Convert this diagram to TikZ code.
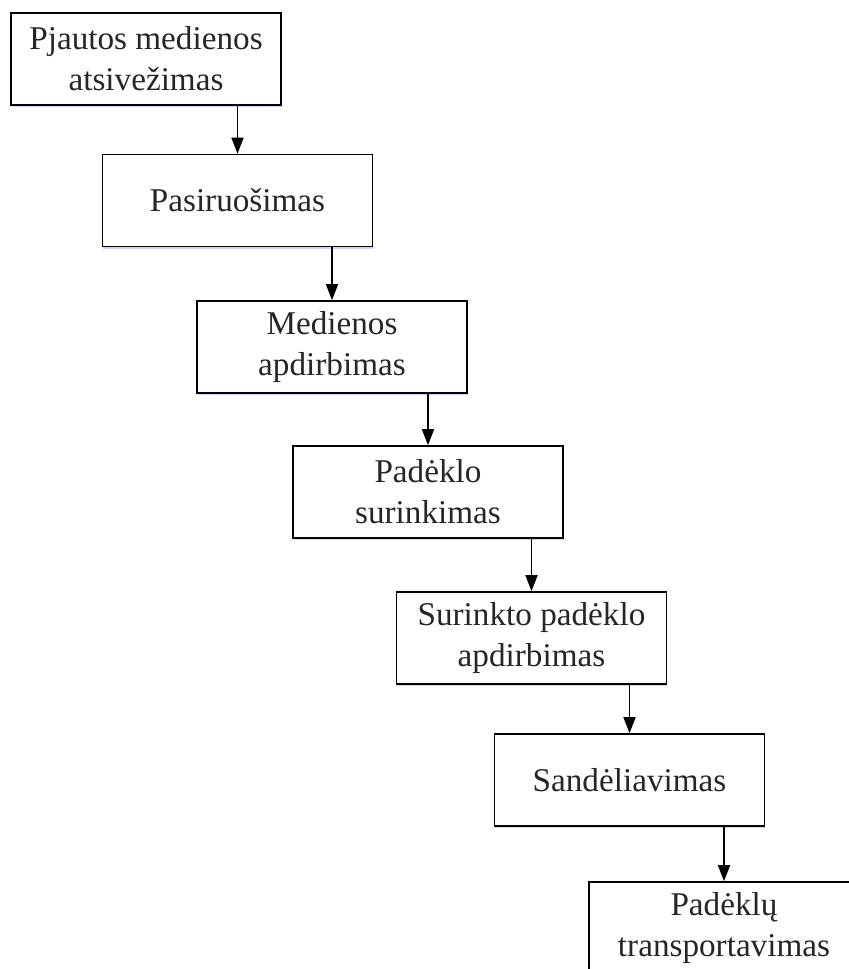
\documentclass[tikz,border=0pt]{standalone}
\usepackage{fontspec}
\setmainfont{Liberation Serif}
\usetikzlibrary{arrows.meta,shadows}
\begin{document}
\begin{tikzpicture}[x=0.5pt,y=-0.5pt,
  stepbox/.style={draw,fill=white,line width=0.8pt,minimum width=135pt,minimum height=46pt,
    inner sep=0pt,align=center,text=black!85,font=\fontsize{16.6}{20.5}\selectfont,
    drop shadow={shadow xshift=0.4pt,shadow yshift=-1pt,fill=blue!18!white,opacity=1}},
  flow/.style={-{Triangle[width=6pt,length=8pt]},line width=0.8pt}]
  \useasboundingbox (0,0) rectangle (849,969);
  \node[stepbox] (vez) at (146,59) {Pjautos medienos\\atsivežimas};
  \node[stepbox] (pas) at (237.5,200.5) {Pasiruošimas};
  \node[stepbox] (med) at (332,347) {Medienos\\apdirbimas};
  \node[stepbox] (sur) at (428,492) {Padėklo\\surinkimas};
  \node[stepbox] (pad) at (531.5,638) {Surinkto padėklo\\apdirbimas};
  \node[stepbox] (san) at (629.5,780) {Sandėliavimas};
  \node[stepbox] (tra) at (724,928) {Padėklų\\transportavimas};
  \foreach \a/\b in {vez/pas,pas/med,med/sur,sur/pad,pad/san,san/tra}
    \draw[flow] (\a.south -| \b.north) -- (\b.north);
\end{tikzpicture}
\end{document}
